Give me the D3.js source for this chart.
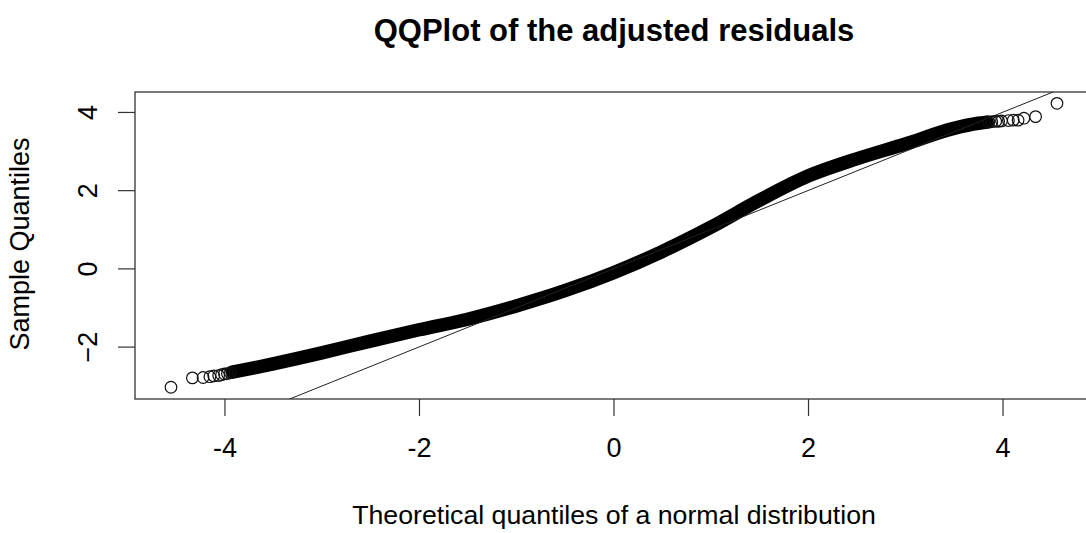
<!DOCTYPE html>
<html>
<head>
<meta charset="utf-8">
<script src="https://cdn.jsdelivr.net/npm/d3@7"></script>
<style>
  body { margin: 0; background: #fff; }
  svg { display: block; font-family: "Liberation Sans", Arial, sans-serif; }
</style>
</head>
<body>
<script>
// size of the page
const w = 1086;
const h = 533;

// tick values and their labels
const xTicks = [-4, -2, 0, 2, 4];
const xTickLabels = ["-4", "-2", "0", "2", "4"];
const yTicks = [-2, 0, 2, 4];
const yTickLabels = ["\u22122", "0", "2", "4"];

// dense part of the sample
const bandTheo   = [-3.92, -3.75, -3.5, -3.0, -2.5, -2.0, -1.5, -1.0, -0.5, 0.0, 0.5, 1.0, 1.5, 2.0, 2.5, 3.0, 3.5, 3.75, 3.84];
const bandSample = [-2.65, -2.57, -2.44, -2.16, -1.86, -1.57, -1.30, -0.96, -0.57, -0.11, 0.43, 1.05, 1.74, 2.36, 2.80, 3.18, 3.58, 3.71, 3.74];

// sparse tail points
const tailTheo   = [-4.55, -4.33, -4.22, -4.15, -4.11, -4.06, -4.03, -4.00, -3.97, -3.94, 3.86, 3.89, 3.93, 3.96, 3.99, 4.06, 4.11, 4.16, 4.22, 4.34, 4.56];
const tailSample = [-3.04, -2.80, -2.79, -2.77, -2.75, -2.74, -2.72, -2.70, -2.69, -2.67, 3.74, 3.75, 3.76, 3.76, 3.77, 3.78, 3.79, 3.79, 3.84, 3.88, 4.22];

// qqline
const lineSlope = 1.0;
const lineIntercept = -0.01;

// plot region
const plotLeft = 135, plotRight = 1092, plotTop = 92, plotBottom = 399;

const xScale = d3.scaleLinear().domain([-4.92, 4.92]).range([plotLeft, plotRight]);
const yScale = d3.scaleLinear().domain([-3.34, 4.51]).range([plotBottom, plotTop]);

const svg = d3.select("body").append("svg").attr("width", w).attr("height", h);

svg.append("clipPath").attr("id", "plotclip")
  .append("rect")
  .attr("x", plotLeft).attr("y", plotTop)
  .attr("width", plotRight - plotLeft).attr("height", plotBottom - plotTop);

const plot = svg.append("g").attr("clip-path", "url(#plotclip)");

// the dense band of overlapping circles
const band = bandTheo.map((d, i) => [d, bandSample[i]]);
plot.append("path")
  .datum(band)
  .attr("fill", "none")
  .attr("stroke", "#000")
  .attr("stroke-width", 13.5)
  .attr("stroke-linecap", "round")
  .attr("stroke-linejoin", "round")
  .attr("d", d3.line()
    .x(d => xScale(d[0]))
    .y(d => yScale(d[1]))
    .curve(d3.curveMonotoneX));

// reference line
const xd = xScale.domain();
plot.append("line")
  .attr("x1", xScale(xd[0])).attr("y1", yScale(lineIntercept + lineSlope * xd[0]))
  .attr("x2", xScale(xd[1])).attr("y2", yScale(lineIntercept + lineSlope * xd[1]))
  .attr("stroke", "#222")
  .attr("stroke-width", 1);

// tail points
plot.selectAll("circle")
  .data(tailTheo.map((d, i) => [d, tailSample[i]]))
  .enter()
  .append("circle")
  .attr("cx", d => xScale(d[0]))
  .attr("cy", d => yScale(d[1]))
  .attr("r", 5.8)
  .attr("fill", "none")
  .attr("stroke", "#111")
  .attr("stroke-width", 1.2);

// box
svg.append("rect")
  .attr("x", plotLeft).attr("y", plotTop)
  .attr("width", plotRight - plotLeft).attr("height", plotBottom - plotTop)
  .attr("fill", "none")
  .attr("stroke", "#333")
  .attr("stroke-width", 1.3);

// X axis
const xAxis = d3.axisBottom(xScale)
  .tickValues(xTicks)
  .tickSize(17)
  .tickFormat((d, i) => xTickLabels[i]);

const gx = svg.append("g")
  .attr("transform", "translate(0," + plotBottom + ")")
  .call(xAxis);
gx.select(".domain").remove();
gx.selectAll("line").attr("stroke", "#333").attr("stroke-width", 1.2);
gx.selectAll("text")
  .attr("y", 58).attr("dy", null)
  .attr("fill", "#000")
  .attr("font-size", 27)
  .attr("font-family", null);

// Y axis
const yAxis = d3.axisLeft(yScale)
  .tickValues(yTicks)
  .tickSize(17)
  .tickFormat((d, i) => yTickLabels[i]);

const gy = svg.append("g")
  .attr("transform", "translate(" + plotLeft + ",0)")
  .call(yAxis);
gy.select(".domain").remove();
gy.selectAll("line").attr("stroke", "#333").attr("stroke-width", 1.2);
gy.selectAll("text")
  .attr("x", null).attr("dy", null)
  .attr("transform", "translate(-38,0) rotate(-90)")
  .attr("text-anchor", "middle")
  .attr("fill", "#000")
  .attr("font-size", 27)
  .attr("font-family", null);

// title and axis labels
svg.append("text")
  .attr("x", 614).attr("y", 41)
  .attr("text-anchor", "middle")
  .attr("font-weight", "bold")
  .attr("font-size", 31)
  .text("QQPlot of the adjusted residuals");

svg.append("text")
  .attr("x", 614).attr("y", 524)
  .attr("text-anchor", "middle")
  .attr("font-size", 26.7)
  .text("Theoretical quantiles of a normal distribution");

svg.append("text")
  .attr("transform", "translate(29,244) rotate(-90)")
  .attr("text-anchor", "middle")
  .attr("font-size", 27)
  .text("Sample Quantiles");
</script>
</body>
</html>
